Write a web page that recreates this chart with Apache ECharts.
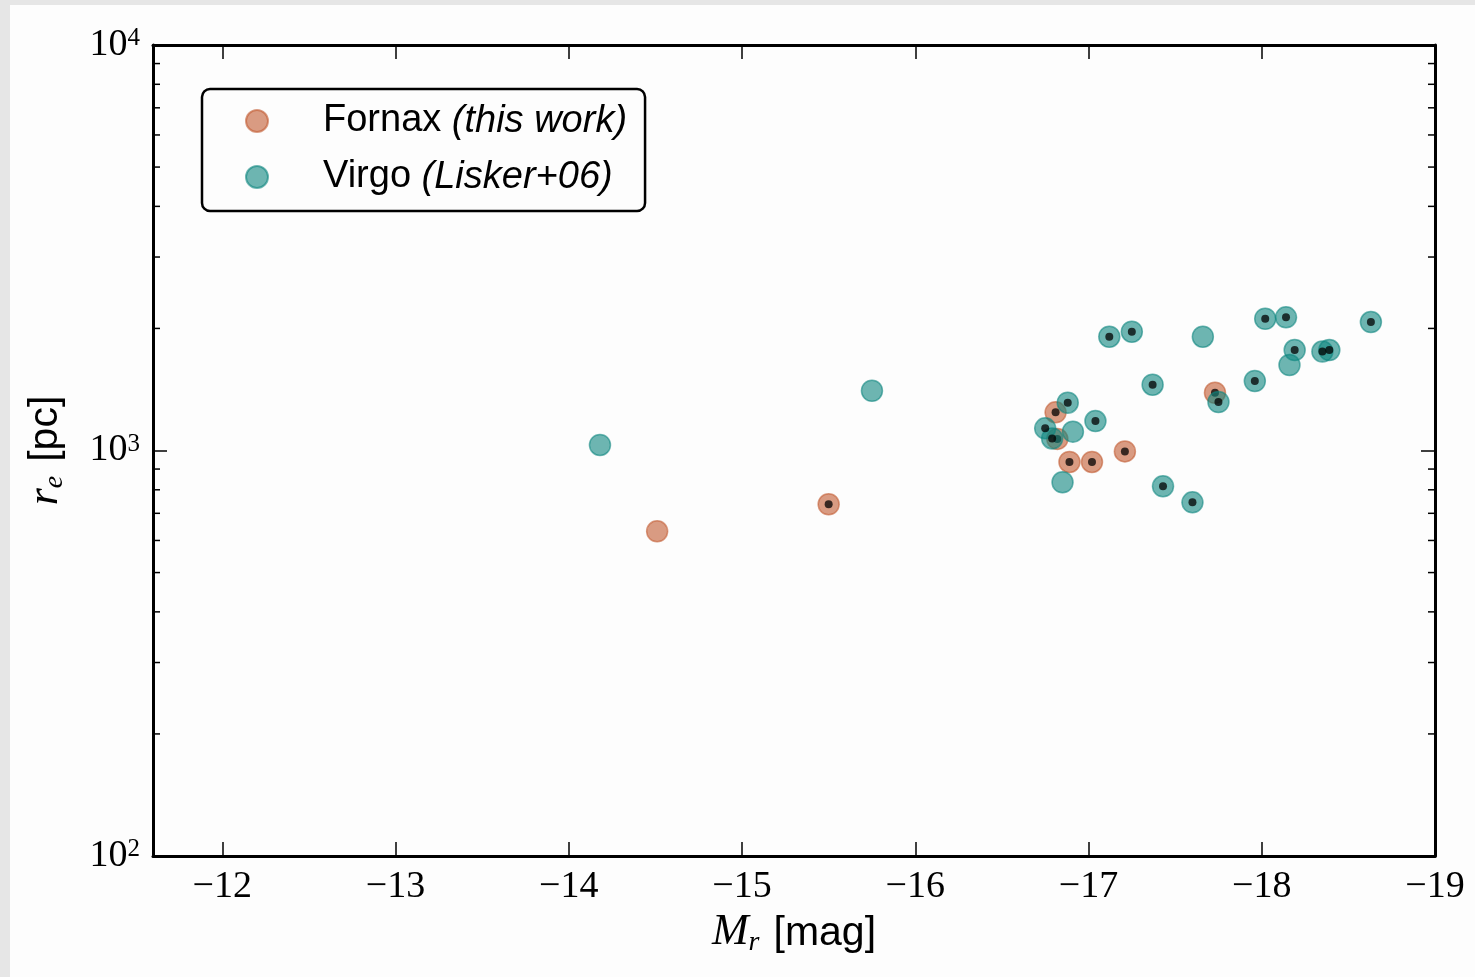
<!DOCTYPE html>
<html>
<head>
<meta charset="utf-8">
<script src="https://cdn.jsdelivr.net/npm/echarts@6/dist/echarts.min.js"></script>
<style>
  html, body { margin: 0; padding: 0; background: #e6e6e6; width: 1475px; height: 977px; overflow: hidden; }
  #chart { position: absolute; left: 10px; top: 5px; width: 1465px; height: 972px; background: #fdfdfd; }
</style>
</head>
<body>
<div id="chart"></div>
<script>
// ---- data ----
const seriesNames = ['Fornax', 'Virgo'];
const legendNotes = ['(this work)', '(Lisker+06)'];

const fornaxMag = [-14.51, -15.50, -16.81, -16.82, -16.89, -17.02, -17.21, -17.73];
const fornaxRe  = [632, 737, 1242, 1068, 937, 937, 995, 1388];
const fornaxNuc = [false, true, true, true, true, true, true, true];

const virgoMag = [-14.18, -15.75, -17.12, -17.25, -17.66, -18.02, -18.14, -18.63, -18.19, -18.35, -18.39, -18.16,
                  -17.96, -17.75, -17.37, -16.88, -17.04, -16.75, -16.91, -16.79, -16.85, -17.43, -17.60];
const virgoRe  = [1032, 1404, 1908, 1963, 1908, 2113, 2130, 2074, 1769, 1754, 1769, 1625,
                  1484, 1317, 1453, 1312, 1182, 1134, 1113, 1071, 835, 816, 745];
const virgoNuc = [false, false, true, true, false, true, true, true, true, true, true, false,
                  true, true, true, true, true, true, false, true, false, true, true];

const xTickValues = [-12, -13, -14, -15, -16, -17, -18, -19];
const yMajorTicks = [100, 1000, 10000];
const yMinorTicks = [200, 300, 400, 500, 600, 700, 800, 900, 2000, 3000, 4000, 5000, 6000, 7000, 8000, 9000];

const xMin = -19, xMax = -11.6, yMin = 100, yMax = 10000;

// ---- build ----
function pairs(xs, ys) { return xs.map((x, i) => [x, ys[i]]); }
function nucPairs(xs, ys, flags) { return xs.map((x, i) => [x, ys[i]]).filter((p, i) => flags[i]); }

const serif = 'Liberation Serif';
const sans = 'Liberation Sans';
const fornaxColor = '#c25a30';
const virgoColor = '#0e857e';

const chart = echarts.init(document.getElementById('chart'), null, { renderer: 'canvas' });

const axisLineStyle = { color: '#000', width: 3 };
const nameRich = {
  i: { fontFamily: serif, fontStyle: 'italic', fontSize: 44, color: '#000', verticalAlign: 'top', lineHeight: 46 },
  sub: { fontFamily: serif, fontStyle: 'italic', fontSize: 28, color: '#000', verticalAlign: 'bottom', lineHeight: 28 },
  sp: { fontFamily: sans, fontSize: 40, width: 14 },
  s: { fontFamily: sans, fontSize: 41, color: '#000', lineHeight: 46 }
};

const option = {
  animation: false,
  backgroundColor: 'transparent',
  grid: { left: 143, right: 40, top: 40, bottom: 121, containLabel: false },
  legend: {
    data: seriesNames,
    orient: 'vertical',
    left: 192, top: 84,
    itemWidth: 22, itemHeight: 22,
    itemGap: 16,
    padding: [12, 18, 14, 43],
    borderColor: '#000', borderWidth: 2.5, borderRadius: 8,
    icon: 'circle',
    formatter: function (name) {
      const i = seriesNames.indexOf(name);
      return '{gap|}{n|' + name + ' }{it|' + legendNotes[i] + '}';
    },
    textStyle: {
      fontFamily: sans, fontSize: 38, color: '#000', lineHeight: 40,
      rich: {
        gap: { width: 50 },
        n: { fontFamily: sans, fontSize: 38, color: '#000' },
        it: { fontFamily: sans, fontSize: 38, fontStyle: 'italic', color: '#000' }
      }
    }
  },
  xAxis: [{
    type: 'value', min: xMin, max: xMax, interval: 1, inverse: true,
    position: 'bottom',
    splitLine: { show: false },
    axisLine: { show: true, lineStyle: axisLineStyle },
    axisTick: { show: true, inside: true, length: 14, lineStyle: { color: '#000', width: 1.5 } },
    axisLabel: {
      margin: 12, fontFamily: serif, fontSize: 38, color: '#000',
      formatter: function (v) { return xTickValues.indexOf(v) >= 0 ? '\u2212' + Math.abs(v) : ''; }
    },
    name: '{i|M}{sub|r}{sp|}{s|[mag]}',
    nameLocation: 'middle', nameGap: 46,
    nameTextStyle: { rich: nameRich }
  }, {
    type: 'value', min: xMin, max: xMax, interval: 1, inverse: true,
    position: 'top',
    splitLine: { show: false },
    axisLine: { show: true, lineStyle: axisLineStyle },
    axisTick: { show: true, inside: true, length: 14, lineStyle: { color: '#000', width: 1.5 } },
    axisLabel: { show: false }
  }],
  yAxis: [{
    type: 'log', logBase: 10, min: yMin, max: yMax, interval: 1,
    position: 'left',
    splitLine: { show: false },
    minorTick: { show: false },
    axisLine: { show: true, lineStyle: axisLineStyle },
    axisTick: { show: true, inside: true, length: 14, lineStyle: { color: '#000', width: 1.5 } },
    axisLabel: {
      margin: 13, color: '#000',
      formatter: function (v) { return '{b|10}{s|' + Math.round(Math.log10(v)) + '}'; },
      rich: {
        b: { fontFamily: serif, fontSize: 38, color: '#000', lineHeight: 38 },
        s: { fontFamily: serif, fontSize: 25, color: '#000', lineHeight: 25, verticalAlign: 'top' }
      }
    },
    name: '{i|r}{sub|e}{sp|}{s|[pc]}',
    nameLocation: 'middle', nameGap: 84, nameRotate: 90,
    nameTextStyle: { rich: nameRich }
  }, {
    type: 'log', logBase: 10, min: yMin, max: yMax, interval: 1,
    position: 'right',
    splitLine: { show: false },
    axisLine: { show: true, lineStyle: axisLineStyle },
    axisTick: { show: true, inside: true, length: 14, lineStyle: { color: '#000', width: 1.5 } },
    axisLabel: { show: false }
  }],
  series: [
    {
      name: 'minorTicks', type: 'custom', xAxisIndex: 0, yAxisIndex: 0, silent: true, z: 1,
      data: yMinorTicks.map(v => [xMin, v]),
      encode: { x: 0, y: 1 },
      renderItem: function (params, api) {
        const cs = params.coordSys;
        const y = api.coord([api.value(0), api.value(1)])[1];
        const st = { stroke: '#000', lineWidth: 1.5 };
        return {
          type: 'group',
          children: [
            { type: 'line', shape: { x1: cs.x, y1: y, x2: cs.x + 7, y2: y }, style: st },
            { type: 'line', shape: { x1: cs.x + cs.width - 7, y1: y, x2: cs.x + cs.width, y2: y }, style: st }
          ]
        };
      }
    },
    {
      name: seriesNames[0], type: 'scatter', symbol: 'circle', symbolSize: 21, z: 3,
      data: pairs(fornaxMag, fornaxRe),
      itemStyle: { color: fornaxColor, borderColor: fornaxColor, borderWidth: 1.5, opacity: 0.6 }
    },
    {
      name: 'fornaxNuclei', type: 'scatter', symbol: 'circle', symbolSize: 8, z: 4,
      data: nucPairs(fornaxMag, fornaxRe, fornaxNuc),
      itemStyle: { color: '#000', opacity: 0.75 }
    },
    {
      name: seriesNames[1], type: 'scatter', symbol: 'circle', symbolSize: 21, z: 5,
      data: pairs(virgoMag, virgoRe),
      itemStyle: { color: virgoColor, borderColor: virgoColor, borderWidth: 1.5, opacity: 0.6 }
    },
    {
      name: 'virgoNuclei', type: 'scatter', symbol: 'circle', symbolSize: 8, z: 6,
      data: nucPairs(virgoMag, virgoRe, virgoNuc),
      itemStyle: { color: '#000', opacity: 0.75 }
    }
  ]
};
chart.setOption(option);
</script>
</body>
</html>
